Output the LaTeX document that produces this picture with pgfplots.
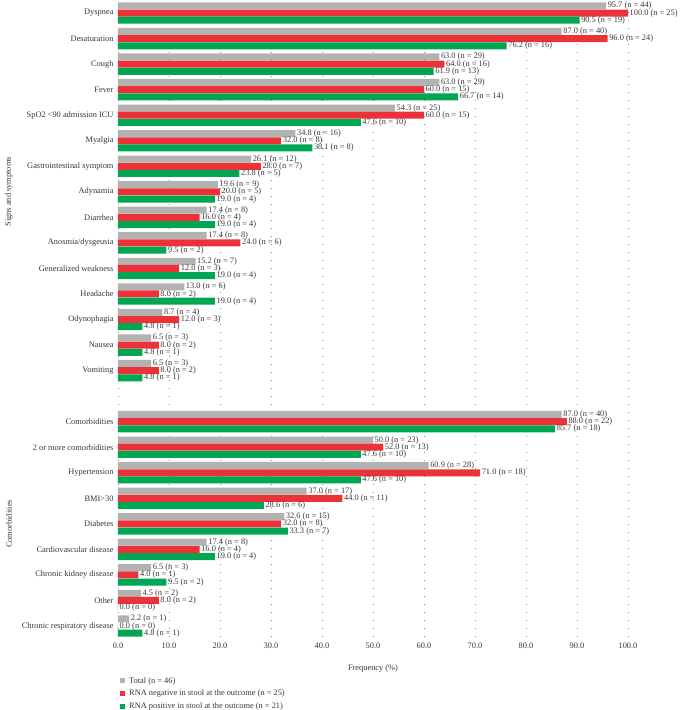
\documentclass[border=0pt]{standalone}
\usepackage{pgfplots}
\pgfplotsset{compat=1.18}
\usepackage{fontspec}
\setmainfont{Liberation Serif}

\definecolor{totgray}{RGB}{178,178,178}
\definecolor{negred}{RGB}{236,50,56}
\definecolor{posgreen}{RGB}{0,166,81}
\definecolor{txt}{RGB}{55,55,55}

\newcommand{\lblfont}{\fontsize{8.4}{10}\selectfont}

\begin{document}
\begin{tikzpicture}
\path[use as bounding box] (-118bp,-73bp) rectangle (562bp,637bp);
\begin{axis}[
  anchor=south west, at={(0,0)},
  x=5.1bp, y=25.54bp,
  xmin=0, xmax=100, ymin=-0.43, ymax=24.51,
  enlargelimits=false,
  scale only axis,
  clip=false,
  xbar, bar width=7bp,
  axis line style={draw=none},
  major tick length=0pt,
  xtick={0,10,...,100},
  xticklabel style={yshift=-2.5bp},
  x tick label style={/pgf/number format/.cd, fixed, fixed zerofill, precision=1, assume math mode=true},
  xmajorgrids,
  grid style={black!45, line width=0.5bp, dash pattern=on 0.6bp off 7.4bp},
  ytick={0,1,2,3,4,5,6,7,8,10,11,12,13,14,15,16,17,18,19,20,21,22,23,24},
  yticklabels={Chronic respiratory disease, Other, Chronic kidney disease,
    Cardiovascular disease, Diabetes, BMI>30, Hypertension,
    2 or more comorbidities, Comorbidities,
    Vomiting, Nausea, Odynophagia, Headache, Generalized weakness,
    Anosmia/dysgeusia, Diarrhea, Adynamia, Gastrointestinal symptom,
    Myalgia, SpO2 <90 admission ICU, Fever, Cough, Desaturation, Dyspnea},
  yticklabel style={xshift=-1bp},
  tick label style={font=\lblfont, text=txt},
  xlabel={Frequency (\%)},
  every axis x label/.style={at={(rel axis cs:0.5,0)}, yshift=-31bp, anchor=center,
    font=\lblfont, text=txt},
  point meta=explicit symbolic,
  nodes near coords,
  every node near coord/.append style={font=\lblfont, text=txt,
    anchor=west, inner sep=1.5bp},
  legend image code/.code={\fill[#1] (1bp,-2.6bp) rectangle (6.2bp,2.6bp); \path (0bp,0bp) -- (9bp,0bp);},
  legend style={at={(rel axis cs:0,0)}, anchor=north west, xshift=1bp, yshift=-39bp,
    draw=none, fill=none, inner sep=0pt, row sep=3.4bp,
    font=\lblfont, text=txt,
    nodes={inner sep=1pt}},
  legend cell align=left,
]
% Total (n = 46)
\addplot[draw=none, fill=totgray, bar shift=7.2bp] coordinates {
  (95.7,24) [95.7 (n = 44)]
  (87.0,23) [87.0 (n = 40)]
  (63.0,22) [63.0 (n = 29)]
  (63.0,21) [63.0 (n = 29)]
  (54.3,20) [54.3 (n = 25)]
  (34.8,19) [34.8 (n = 16)]
  (26.1,18) [26.1 (n = 12)]
  (19.6,17) [19.6 (n = 9)]
  (17.4,16) [17.4 (n = 8)]
  (17.4,15) [17.4 (n = 8)]
  (15.2,14) [15.2 (n = 7)]
  (13.0,13) [13.0 (n = 6)]
  (8.7,12) [8.7 (n = 4)]
  (6.5,11) [6.5 (n = 3)]
  (6.5,10) [6.5 (n = 3)]
  (87.0,8) [87.0 (n = 40)]
  (50.0,7) [50.0 (n = 23)]
  (60.9,6) [60.9 (n = 28)]
  (37.0,5) [37.0 (n = 17)]
  (32.6,4) [32.6 (n = 15)]
  (17.4,3) [17.4 (n = 8)]
  (6.5,2) [6.5 (n = 3)]
  (4.5,1) [4.5 (n = 2)]
  (2.2,0) [2.2 (n = 1)]
};
\addlegendentry{Total (n = 46)}
% RNA negative in stool
\addplot[draw=none, fill=negred, bar shift=0bp] coordinates {
  (100.0,24) [100.0 (n = 25)]
  (96.0,23) [96.0 (n = 24)]
  (64.0,22) [64.0 (n = 16)]
  (60.0,21) [60.0 (n = 15)]
  (60.0,20) [60.0 (n = 15)]
  (32.0,19) [32.0 (n = 8)]
  (28.0,18) [28.0 (n = 7)]
  (20.0,17) [20.0 (n = 5)]
  (16.0,16) [16.0 (n = 4)]
  (24.0,15) [24.0 (n = 6)]
  (12.0,14) [12.0 (n = 3)]
  (8.0,13) [8.0 (n = 2)]
  (12.0,12) [12.0 (n = 3)]
  (8.0,11) [8.0 (n = 2)]
  (8.0,10) [8.0 (n = 2)]
  (88.0,8) [88.0 (n = 22)]
  (52.0,7) [52.0 (n = 13)]
  (71.0,6) [71.0 (n = 18)]
  (44.0,5) [44.0 (n = 11)]
  (32.0,4) [32.0 (n = 8)]
  (16.0,3) [16.0 (n = 4)]
  (4.0,2) [4.0 (n = 1)]
  (8.0,1) [8.0 (n = 2)]
  (0.0,0) [0.0 (n = 0)]
};
\addlegendentry{RNA negative in stool at the outcome (n = 25)}
% RNA positive in stool
\addplot[draw=none, fill=posgreen, bar shift=-7.2bp] coordinates {
  (90.5,24) [90.5 (n = 19)]
  (76.2,23) [76.2 (n = 16)]
  (61.9,22) [61.9 (n = 13)]
  (66.7,21) [66.7 (n = 14)]
  (47.6,20) [47.6 (n = 10)]
  (38.1,19) [38.1 (n = 8)]
  (23.8,18) [23.8 (n = 5)]
  (19.0,17) [19.0 (n = 4)]
  (19.0,16) [19.0 (n = 4)]
  (9.5,15) [9.5 (n = 2)]
  (19.0,14) [19.0 (n = 4)]
  (19.0,13) [19.0 (n = 4)]
  (4.8,12) [4.8 (n = 1)]
  (4.8,11) [4.8 (n = 1)]
  (4.8,10) [4.8 (n = 1)]
  (85.7,8) [85.7 (n = 18)]
  (47.6,7) [47.6 (n = 10)]
  (47.6,6) [47.6 (n = 10)]
  (28.6,5) [28.6 (n = 6)]
  (33.3,4) [33.3 (n = 7)]
  (19.0,3) [19.0 (n = 4)]
  (9.5,2) [9.5 (n = 2)]
  (0.0,1) [0.0 (n = 0)]
  (4.8,0) [4.8 (n = 1)]
};
\addlegendentry{RNA positive in stool at the outcome (n = 21)}
% panel titles
\node[rotate=90, font=\lblfont, text=txt] at ([xshift=-109bp]axis cs:0,17) {Signs and symptoms};
\node[rotate=90, font=\lblfont, text=txt] at ([xshift=-109bp]axis cs:0,4) {Comorbidities};
\end{axis}
\end{tikzpicture}
\end{document}
